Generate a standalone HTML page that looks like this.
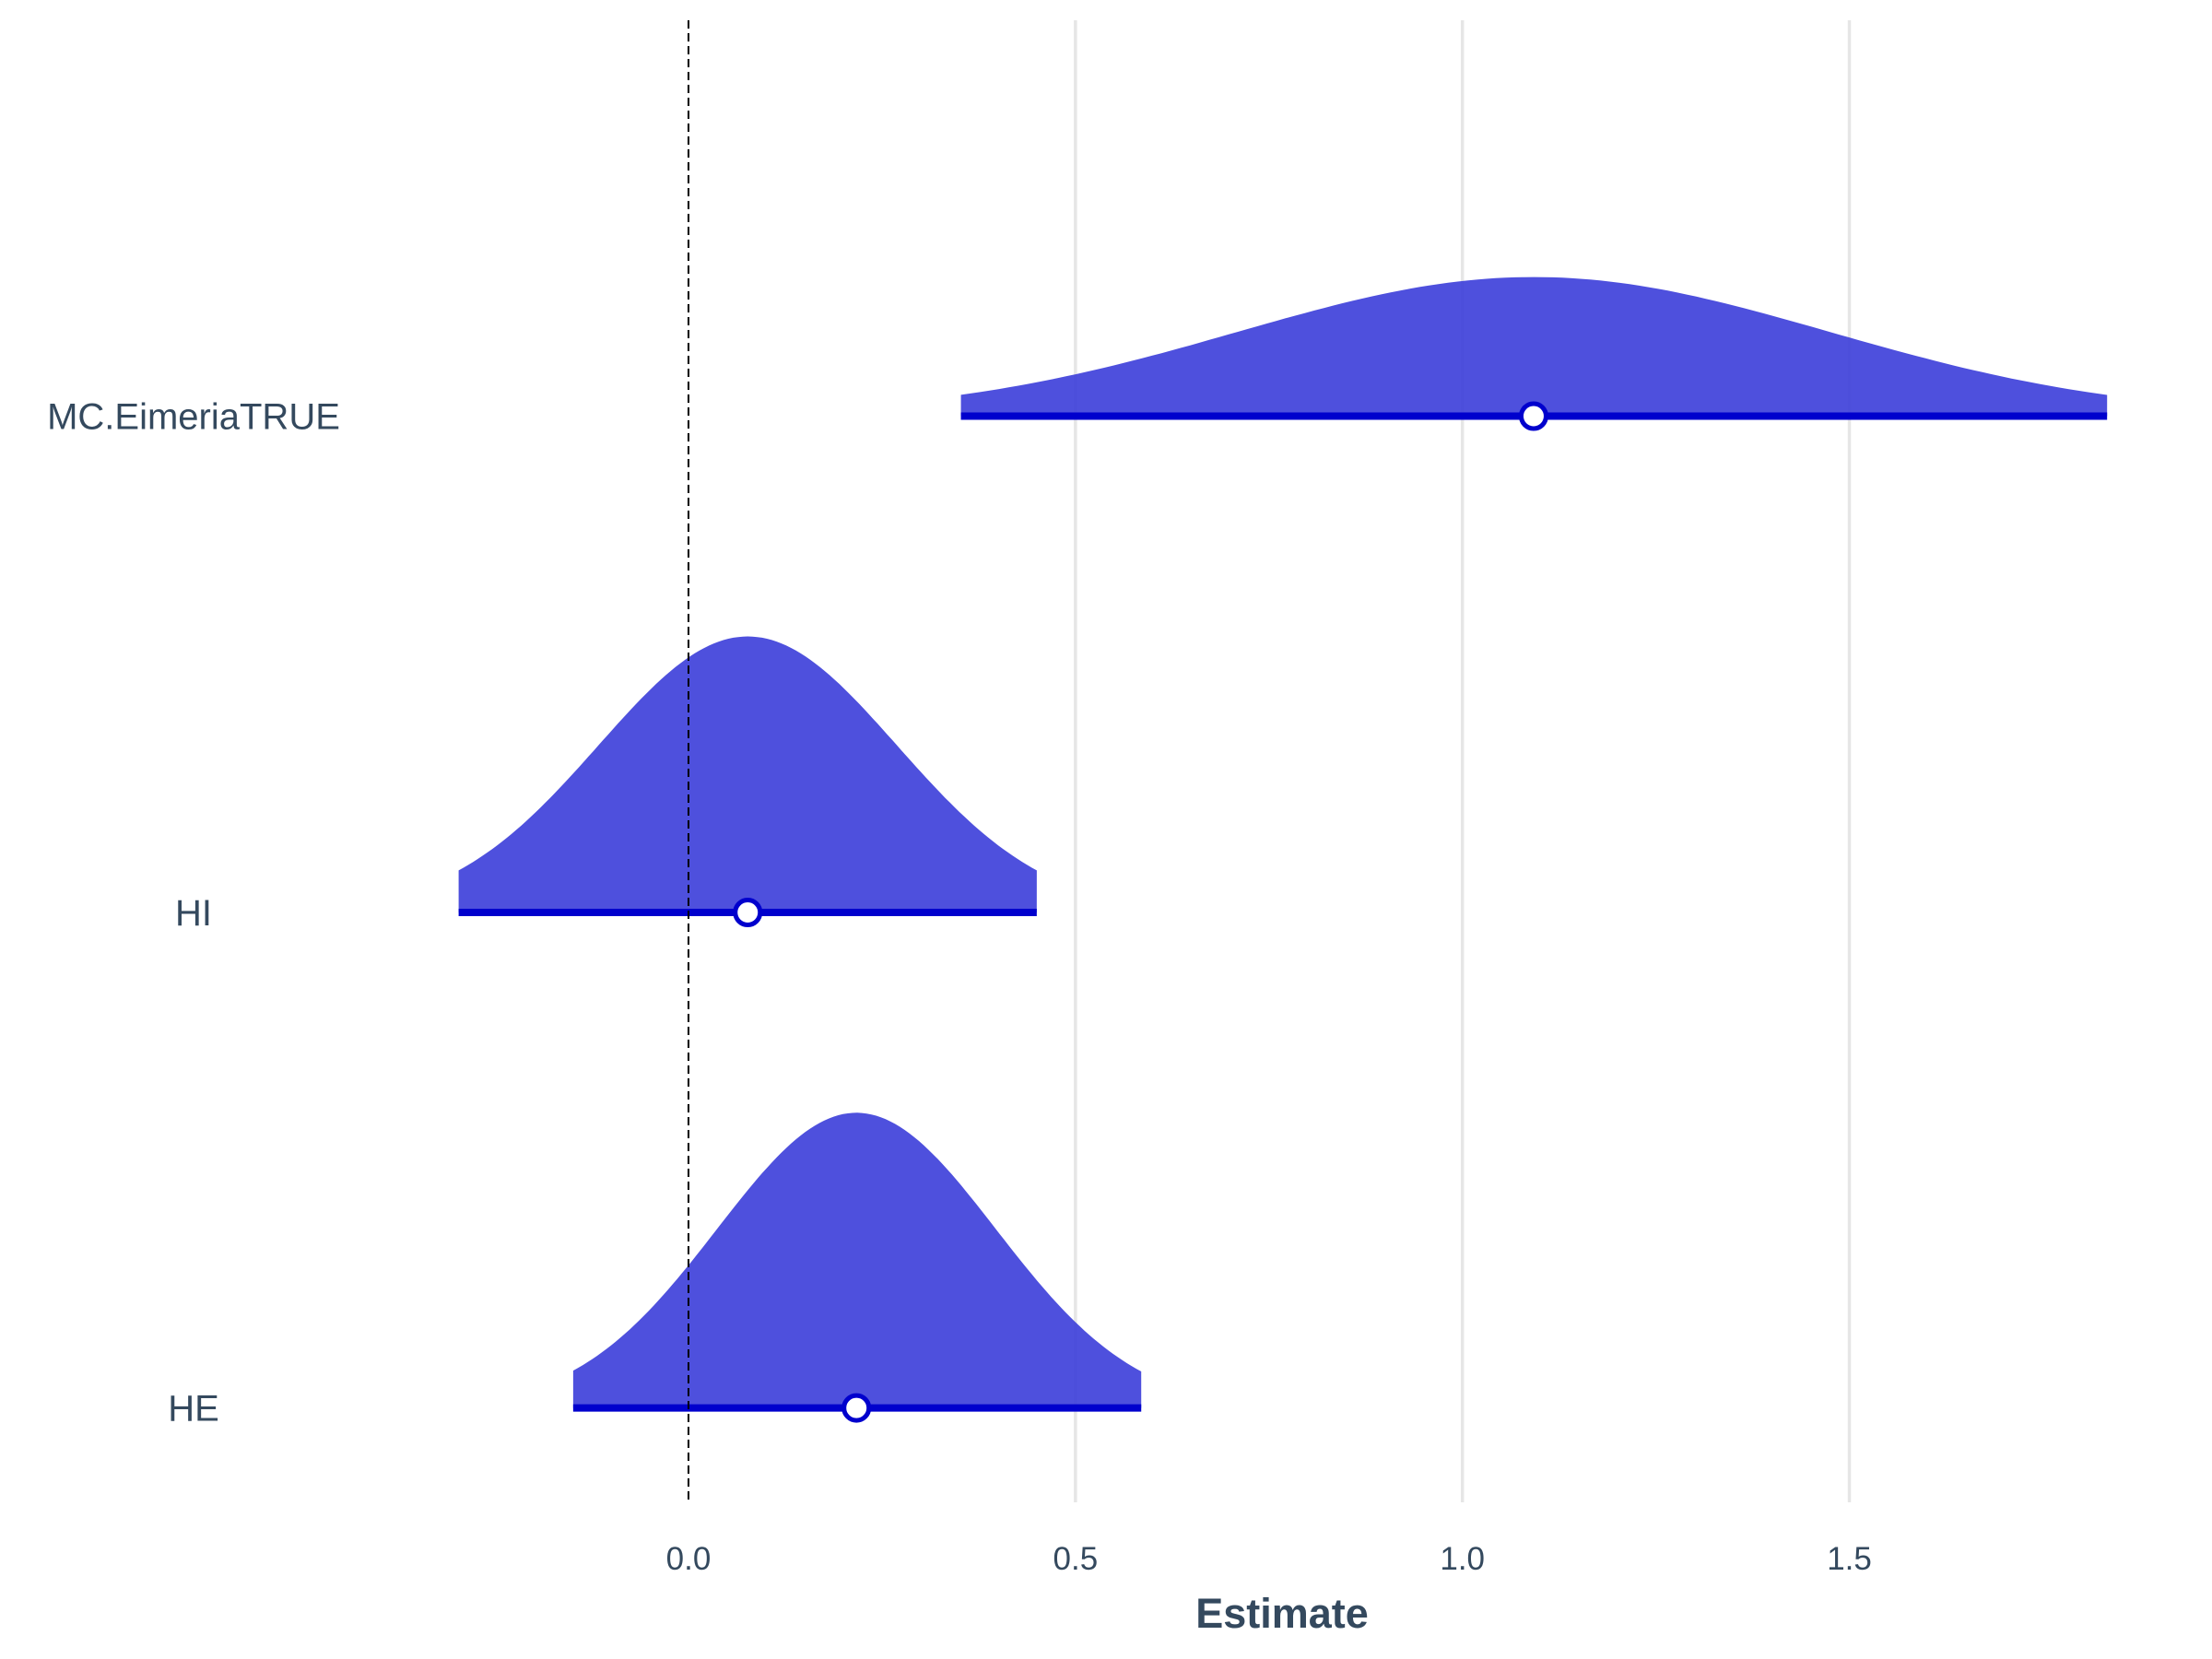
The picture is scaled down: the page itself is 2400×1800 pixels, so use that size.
<!DOCTYPE html>
<html><head><meta charset="utf-8"><style>
html,body{margin:0;padding:0;background:#fff;}
svg{display:block;font-family:"Liberation Sans",Arial,sans-serif;}
</style></head><body>
<svg id="chart" width="2400" height="1800" viewBox="0 0 2400 1800" xmlns="http://www.w3.org/2000/svg">
<rect width="2400" height="1800" fill="#fff"/>
<g id="grid"></g>
<g id="marks"></g>
<g id="labels"></g>
<text x="1391" y="1766" text-anchor="middle" font-size="45" font-weight="bold" fill="#34495e">Estimate</text>
</svg>
<script>
const terms = ["MC.EimeriaTRUE", "HI", "HE"];
const means = [1.092, 0.0765, 0.217];
const sds = [0.382, 0.1925, 0.18];
const lows = [0.352, -0.297, -0.149];
const highs = [1.833, 0.450, 0.585];
const ticks = [0, 0.5, 1.0, 1.5];
const tickLabels = ["0.0", "0.5", "1.0", "1.5"];

const NS = "http://www.w3.org/2000/svg";
const X0 = 747, XU = 839.7;
function xs(v){ return X0 + v*XU; }
const rowY = [451.5, 990, 1527.6];
function ys(i){ return rowY[i]; }
const HU = 144.5;
function mk(tag, attrs, parent){
  const e = document.createElementNS(NS, tag);
  for (const k in attrs) e.setAttribute(k, attrs[k]);
  parent.appendChild(e); return e;
}
const grid = document.getElementById('grid');
const marks = document.getElementById('marks');
const labels = document.getElementById('labels');

ticks.forEach((t, i) => {
  if (t !== 0) {
    const l = mk('line', {x1: xs(t), x2: xs(t), y1: 22, y2: 1630, stroke: '#e6e6e6', 'stroke-width': 3.5}, grid);
    
    
  }
  const tx = mk('text', {x: xs(t), y: 1703, 'text-anchor': 'middle', 'font-size': 35, fill: '#34495e'}, labels);
  tx.textContent = tickLabels[i];
  
  
});

terms.forEach((term, i) => {
  const m = means[i], s = sds[i], lo = lows[i], hi = highs[i], y0 = ys(i);
  const N = 120;
  let d = `M${xs(lo)},${y0}`;
  for (let k = 0; k <= N; k++) {
    const v = lo + (hi - lo) * k / N;
    const pdf = Math.exp(-0.5*((v-m)/s)**2) / (s*Math.sqrt(2*Math.PI));
    d += ` L${xs(v).toFixed(1)},${(y0 - pdf*HU).toFixed(1)}`;
  }
  d += ` L${xs(hi)},${y0} Z`;
  const p = mk('path', {d: d, fill: '#3b3dd9', 'fill-opacity': 0.9}, marks);
  
  
  const ln = mk('line', {x1: xs(lo), x2: xs(hi), y1: y0, y2: y0, stroke: '#0000cd', 'stroke-width': 8}, marks);
  
  
  const lb = mk('text', {x: 210, y: y0 + 14, 'text-anchor': 'middle', 'font-size': 40, fill: '#34495e'}, labels);
  lb.textContent = term;
  
  
});

const z = mk('line', {x1: xs(0), x2: xs(0), y1: 22, y2: 1630, stroke: '#000', 'stroke-width': 2, 'stroke-dasharray': '9,5'}, marks);



terms.forEach((term, i) => {
  const c = mk('circle', {cx: xs(means[i]), cy: ys(i), r: 13.5, fill: '#fff', stroke: '#0000cd', 'stroke-width': 5}, marks);
  
  
});
</script>
</body></html>
